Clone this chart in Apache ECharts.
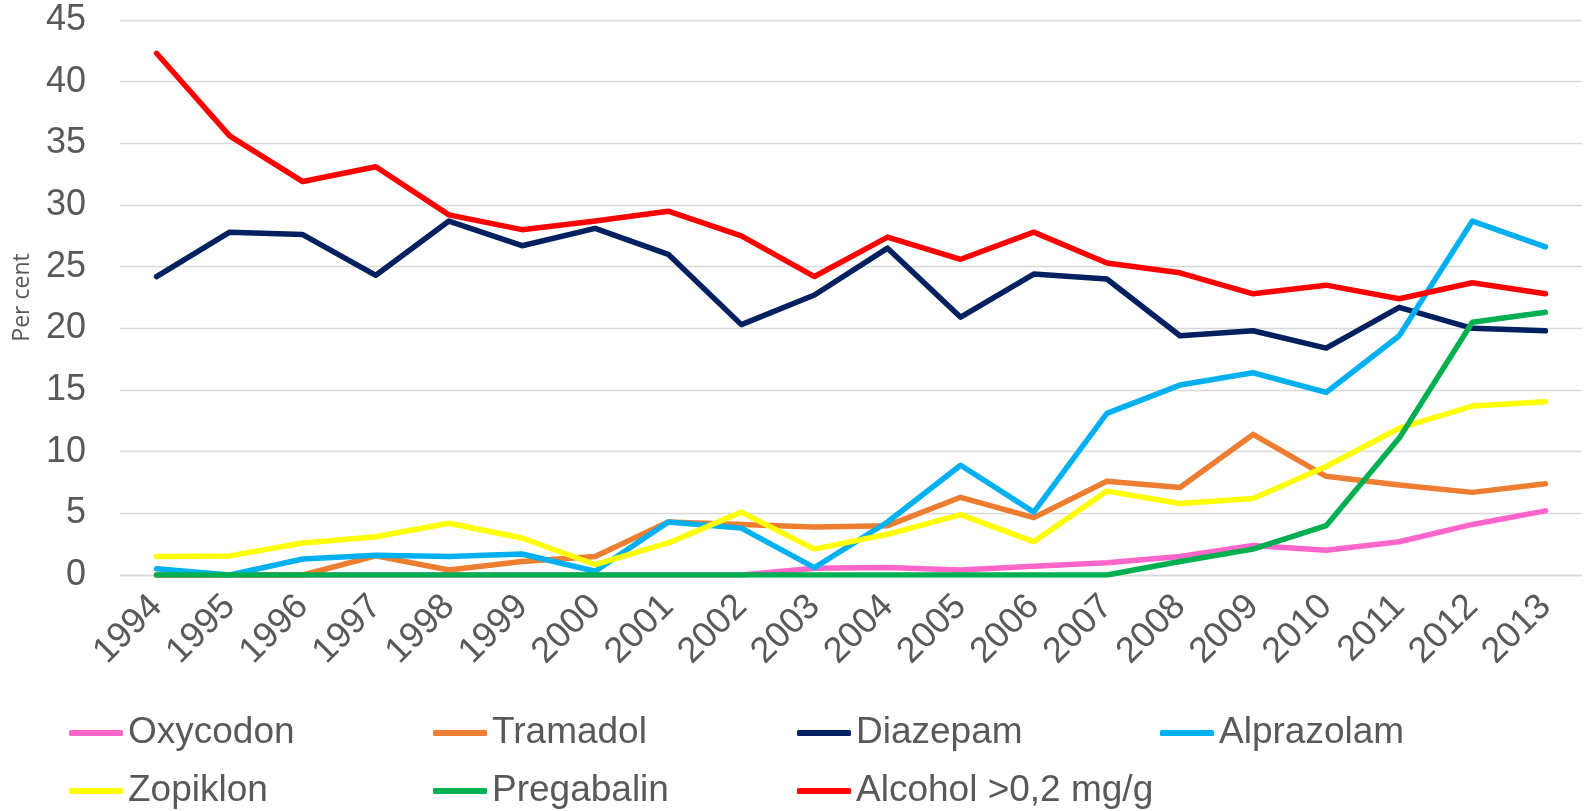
<!DOCTYPE html>
<html>
<head>
<meta charset="utf-8">
<script src="https://cdn.jsdelivr.net/npm/echarts@6/dist/echarts.min.js"></script>
<style>
	html, body { margin: 0; padding: 0; background: #fff; }
	#chart { width: 1585px; height: 811px; }
</style>
</head>
<body>
<div id="chart"></div>
<script>
	// data
	const years = ['1994', '1995', '1996', '1997', '1998', '1999', '2000', '2001', '2002', '2003',
		'2004', '2005', '2006', '2007', '2008', '2009', '2010', '2011', '2012', '2013']
	const oxycodon = [0, 0, 0, 0, 0, 0, 0, 0, 0, 0.55, 0.6, 0.4, 0.7, 1.0, 1.5, 2.4, 2.0, 2.7, 4.1, 5.2]
	const tramadol = [0, 0, 0, 1.55, 0.4, 1.1, 1.5, 4.3, 4.1, 3.9, 4.0, 6.3, 4.65, 7.6, 7.1, 11.4, 8.0, 7.3, 6.7, 7.4]
	const diazepam = [24.2, 27.8, 27.6, 24.3, 28.7, 26.7, 28.1, 26.0, 20.3, 22.7, 26.5, 20.9, 24.4, 24.0, 19.4, 19.8, 18.4, 21.7, 20.0, 19.8]
	const alprazolam = [0.5, 0, 1.3, 1.6, 1.5, 1.7, 0.3, 4.3, 3.8, 0.6, 4.3, 8.9, 5.1, 13.1, 15.4, 16.4, 14.8, 19.4, 28.7, 26.6]
	const zopiklon = [1.5, 1.55, 2.6, 3.1, 4.2, 3.0, 0.85, 2.6, 5.1, 2.1, 3.3, 4.9, 2.7, 6.8, 5.8, 6.2, 8.8, 11.9, 13.7, 14.05]
	const pregabalin = [0, 0, 0, 0, 0, 0, 0, 0, 0, 0, 0, 0, 0, 0, 1.1, 2.1, 4.0, 11.1, 20.5, 21.3]
	const alcohol = [42.3, 35.6, 31.9, 33.1, 29.2, 28.0, 28.7, 29.5, 27.5, 24.2, 27.4, 25.6, 27.8, 25.3, 24.5, 22.8, 23.5, 22.4, 23.7, 22.8]

	const names = ['Oxycodon', 'Tramadol', 'Diazepam', 'Alprazolam', 'Zopiklon', 'Pregabalin', 'Alcohol >0,2 mg/g']
	const values = [oxycodon, tramadol, diazepam, alprazolam, zopiklon, pregabalin, alcohol]
	const colors = ['#FF66CC', '#ED7D31', '#002060', '#00B0F0', '#FFFF00', '#00B050', '#FF0000']

	const textColor = '#595959'
	const fontFamily = 'Liberation Sans, Arial, sans-serif'

	// legend laid out like Excel: 4 columns, 2 rows
	const legendLeft = [64, 428, 792, 1155]
	const legendTop = [708, 766]

	const myChart = echarts.init(document.getElementById('chart'))
	const option = {
		animation: false,
		color: colors,
		grid: {
			left: 120,
			right: 3,
			top: 20,
			bottom: 236
		},
		legend: names.map((name, i) => ({
			data: [name],
			left: legendLeft[i % 4],
			top: legendTop[Math.floor(i / 4)],
			icon: 'roundRect',
			itemWidth: 54,
			itemHeight: 6,
			textStyle: {
				color: textColor,
				fontSize: 37,
				lineHeight: 40,
				fontFamily: fontFamily
			}
		})),
		xAxis: {
			type: 'category',
			data: years,
			boundaryGap: true,
			axisLine: { show: true, lineStyle: { color: '#D9D9D9', width: 1.3 } },
			axisTick: { show: false },
			axisLabel: {
				rotate: 45,
				margin: 26,
				interval: 0,
				color: textColor,
				fontSize: 36,
				fontFamily: fontFamily
			}
		},
		yAxis: {
			type: 'value',
			min: 0,
			max: 45,
			interval: 5,
			name: 'Per cent',
			nameLocation: 'middle',
			nameGap: 86,
			nameTextStyle: {
				color: textColor,
				fontSize: 23,
				fontFamily: 'Open Sans, sans-serif'
			},
			axisLine: { show: false },
			axisTick: { show: false },
			axisLabel: {
				margin: 34,
				color: textColor,
				fontSize: 36,
				fontFamily: fontFamily
			},
			splitLine: {
				lineStyle: { color: '#D9D9D9', width: 1.3 }
			}
		},
		series: names.map((name, i) => ({
			name: name,
			type: 'line',
			data: values[i],
			symbol: 'none',
			lineStyle: { width: 5.5, color: colors[i], cap: 'round', join: 'round' },
			itemStyle: { color: colors[i] }
		}))
	}
	myChart.setOption(option)
</script>
</body>
</html>
